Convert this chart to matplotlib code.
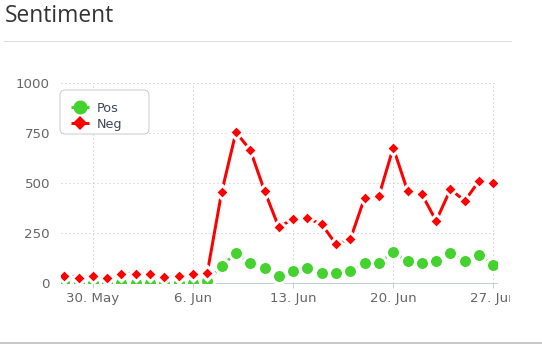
import matplotlib
matplotlib.use("Agg")
import matplotlib.pyplot as plt
import matplotlib.dates as mdates
from matplotlib.lines import Line2D
from matplotlib.patches import FancyBboxPatch
from matplotlib.transforms import Bbox, TransformedBbox
import datetime as dt

# ---- data ----
dates = ["2021-05-28", "2021-05-29", "2021-05-30", "2021-05-31", "2021-06-01",
         "2021-06-02", "2021-06-03", "2021-06-04", "2021-06-05", "2021-06-06",
         "2021-06-07", "2021-06-08", "2021-06-09", "2021-06-10", "2021-06-11",
         "2021-06-12", "2021-06-13", "2021-06-14", "2021-06-15", "2021-06-16",
         "2021-06-17", "2021-06-18", "2021-06-19", "2021-06-20", "2021-06-21",
         "2021-06-22", "2021-06-23", "2021-06-24", "2021-06-25", "2021-06-26",
         "2021-06-27"]
pos = [0, 0, 0, 0, 0, 0, 0, 0, 0, 0, 10, 88, 150, 100, 78, 37, 62, 75, 50, 50,
       62, 100, 100, 155, 112, 100, 112, 150, 113, 142, 90]
neg = [38, 28, 38, 28, 45, 47, 47, 33, 35, 45, 53, 455, 755, 667, 462, 280, 323,
       325, 295, 195, 220, 428, 438, 678, 462, 445, 312, 470, 412, 512, 502]
tick_dates = ["2021-05-30", "2021-06-06", "2021-06-13", "2021-06-20", "2021-06-27"]
tick_labels = ["30. May", "6. Jun", "13. Jun", "20. Jun", "27. Jun"]
y_ticks = [0, 250, 500, 750, 1000]
series_names = ["Pos", "Neg"]

GREEN = "#44d22e"
RED = "#ff0000"

x = [dt.datetime.strptime(d, "%Y-%m-%d") for d in dates]
xt = [dt.datetime.strptime(d, "%Y-%m-%d") for d in tick_dates]

W, H = 542, 357
fig = plt.figure(figsize=(W / 100, H / 100), dpi=100)
L, R, T, B = 60.5, 496.5, 83.3, 283.3
ax = fig.add_axes([L / W, 1 - B / H, (R - L) / W, (B - T) / H])

px = 0.72  # points per pixel


def fx(p):
    return p / W


def fy(p):
    return 1 - p / H


ax.plot(x, pos, color=GREEN, lw=3 * px, marker="o", ms=14 * px, mfc=GREEN,
        mec="white", mew=3 * px, zorder=3, solid_capstyle="butt")
ax.plot(x, neg, color=RED, lw=3 * px, marker="D", ms=10 * px, mfc=RED,
        mec="white", mew=3 * px, zorder=4, solid_capstyle="butt")

ax.set_ylim(0, 1000)
x0 = mdates.date2num(x[0]) - 0.265
x1 = mdates.date2num(x[-1]) + 0.22
ax.set_xlim(x0, x1)

ax.set_yticks(y_ticks)
ax.set_yticklabels([str(v) for v in y_ticks])
ax.set_xticks(xt)
ax.set_xticklabels(tick_labels)

for s in ["top", "right", "left"]:
    ax.spines[s].set_visible(False)
ax.spines["bottom"].set_color("#c0d0e0")
ax.spines["bottom"].set_linewidth(1 * px)

ax.tick_params(axis="y", length=0, pad=7.6, labelsize=9.6, labelcolor="#666666")
ax.tick_params(axis="x", length=3.6, width=1 * px, color="#c0d0e0", pad=2.5,
               labelsize=9.6, labelcolor="#666666")

ax.grid(True, color="#c0c0c0", lw=1 * px, linestyle=(0, (1, 3)))
ax.set_axisbelow(True)
ax.get_ygridlines()[0].set_visible(False)

# ---- legend (drawn manually for exact layout) ----
box = FancyBboxPatch((fx(60), fy(134)), fx(149) - fx(60), fy(90) - fy(134),
                     boxstyle="round,pad=0,rounding_size=0.01",
                     transform=fig.transFigure, facecolor="white",
                     edgecolor="#cccccc", lw=1 * px, zorder=10,
                     mutation_aspect=W / H)
fig.add_artist(box)
leg_y = [106.7, 123.3]
leg_colors = [GREEN, RED]
leg_markers = ["o", "D"]
leg_ms = [14 * px, 10.5 * px]
for name, yy, c, m, ms in zip(series_names, leg_y, leg_colors, leg_markers, leg_ms):
    fig.add_artist(Line2D([fx(71), fx(89)], [fy(yy), fy(yy)], color=c, lw=3 * px,
                          transform=fig.transFigure, zorder=11,
                          solid_capstyle="butt"))
    fig.add_artist(Line2D([fx(80)], [fy(yy)], marker=m, ms=ms, mfc=c, mec=c,
                          mew=0, lw=0, transform=fig.transFigure, zorder=12))
    fig.text(fx(97), fy(yy), name, fontsize=9.2, color="#3d4656",
             ha="left", va="center_baseline", zorder=13)

# ---- title and separators ----
fig.text(fx(5), fy(22.5), "Sentiment", fontsize=16.4, color="#333333",
         family=["Open Sans", "DejaVu Sans"], ha="left", va="baseline")
fig.add_artist(Line2D([fx(4), fx(511)], [fy(40.8), fy(40.8)],
                      color="#dddddd", lw=1 * px, transform=fig.transFigure))
fig.add_artist(Line2D([0, 1], [fy(342.5), fy(342.5)],
                      color="#c8c8c8", lw=2 * px, transform=fig.transFigure))

fig.canvas.draw()
clip = TransformedBbox(Bbox([[0, 0], [fx(510), 1]]), fig.transFigure)
for lab in ax.get_xticklabels():
    lab.set_clip_box(clip)
    lab.set_clip_on(True)

fig.savefig("out.png", dpi=100, facecolor="white")
